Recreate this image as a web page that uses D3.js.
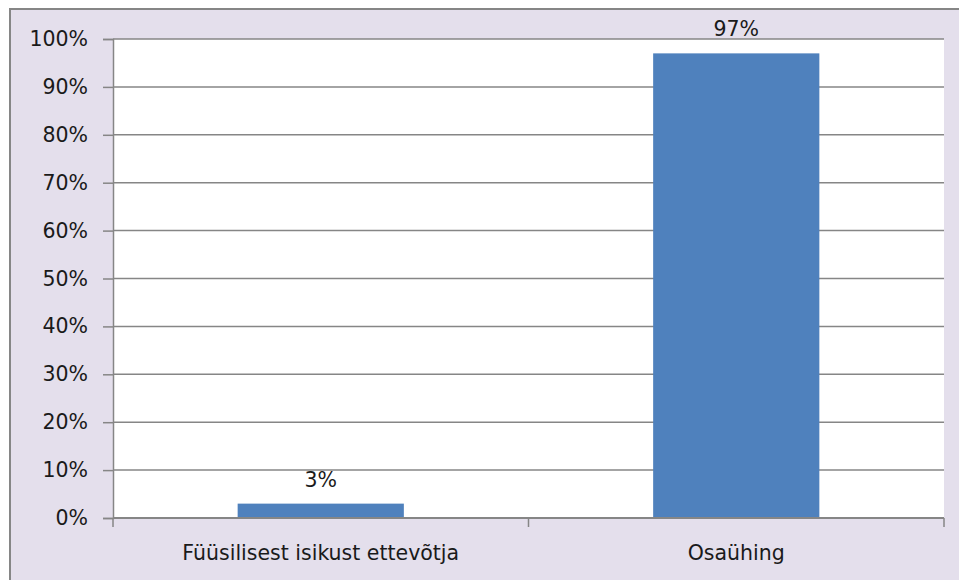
<!DOCTYPE html>
<html>
<head>
<meta charset="utf-8">
<script src="https://cdn.jsdelivr.net/npm/d3@7"></script>
<style>
  html, body { margin: 0; padding: 0; background: #ffffff; }
  svg { display: block; }
  text { font-family: "DejaVu Sans", sans-serif; fill: #1a1a1a; }
</style>
</head>
<body>
<svg width="959" height="580"></svg>
<script>
// data
const categories = ["Füüsilisest isikust ettevõtja", "Osaühing"];
const values = [3, 97];
const yTicks = [0, 10, 20, 30, 40, 50, 60, 70, 80, 90, 100];

const width = 959, height = 580;
const plot = { left: 113, right: 944, top: 39, bottom: 518 };
const fontSize = 20.5;

const svg = d3.select("svg");

// chart area (lavender) with grey border running off the edges
svg.append("rect")
	.attr("x", 10).attr("y", 9)
	.attr("width", width).attr("height", height)
	.attr("fill", "#e4dfec")
	.attr("stroke", "#868686")
	.attr("stroke-width", 2);

// plot area
svg.append("rect")
	.attr("x", plot.left).attr("y", plot.top)
	.attr("width", plot.right - plot.left)
	.attr("height", plot.bottom - plot.top)
	.attr("fill", "#ffffff");

const x = d3.scaleBand()
	.domain(categories)
	.range([plot.left, plot.right])
	.paddingInner(0.6)
	.paddingOuter(0.3);

const y = d3.scaleLinear()
	.domain([0, 100])
	.range([plot.bottom, plot.top]);

// gridlines
svg.append("g")
	.selectAll("line")
	.data(yTicks.filter(d => d > 0))
	.enter().append("line")
	.attr("x1", plot.left).attr("x2", plot.right)
	.attr("y1", d => y(d)).attr("y2", d => y(d))
	.attr("stroke", "#868686")
	.attr("stroke-width", 1.5);

// y axis
const yAxis = svg.append("g")
	.attr("transform", `translate(${plot.left},0)`)
	.call(d3.axisLeft(y).tickValues(yTicks).tickSize(10).tickPadding(15).tickFormat(d => d + "%"));
yAxis.select(".domain").attr("stroke", "#868686").attr("stroke-width", 1.5);
yAxis.selectAll(".tick line").attr("stroke", "#868686").attr("stroke-width", 1.5);
yAxis.selectAll(".tick text")
	.attr("font-family", "DejaVu Sans, sans-serif")
	.attr("font-size", fontSize)
	.attr("fill", "#1a1a1a");

// bars
svg.append("g")
	.selectAll("rect")
	.data(values)
	.enter().append("rect")
	.attr("x", (d, i) => x(categories[i]))
	.attr("width", x.bandwidth())
	.attr("y", d => y(d))
	.attr("height", d => y(0) - y(d))
	.attr("fill", "#4f81bd");

// value labels
svg.append("g")
	.selectAll("text")
	.data(values)
	.enter().append("text")
	.attr("x", (d, i) => x(categories[i]) + x.bandwidth() / 2)
	.attr("y", d => y(d) - 17)
	.attr("text-anchor", "middle")
	.attr("font-size", fontSize)
	.text(d => d + "%");

// x axis line with ticks at category boundaries
const xBounds = [plot.left, (plot.left + plot.right) / 2, plot.right];
svg.append("line")
	.attr("x1", plot.left).attr("x2", plot.right)
	.attr("y1", plot.bottom).attr("y2", plot.bottom)
	.attr("stroke", "#868686").attr("stroke-width", 2);
svg.append("g")
	.selectAll("line")
	.data(xBounds)
	.enter().append("line")
	.attr("x1", d => d).attr("x2", d => d)
	.attr("y1", plot.bottom).attr("y2", plot.bottom + 9)
	.attr("stroke", "#868686").attr("stroke-width", 1.5);

// category labels
const band = d3.scaleBand().domain(categories).range([plot.left, plot.right]);
svg.append("g")
	.selectAll("text")
	.data(categories)
	.enter().append("text")
	.attr("x", d => band(d) + band.bandwidth() / 2)
	.attr("y", 559.5)
	.attr("text-anchor", "middle")
	.attr("font-size", fontSize)
	.text(d => d);
</script>
</body>
</html>
